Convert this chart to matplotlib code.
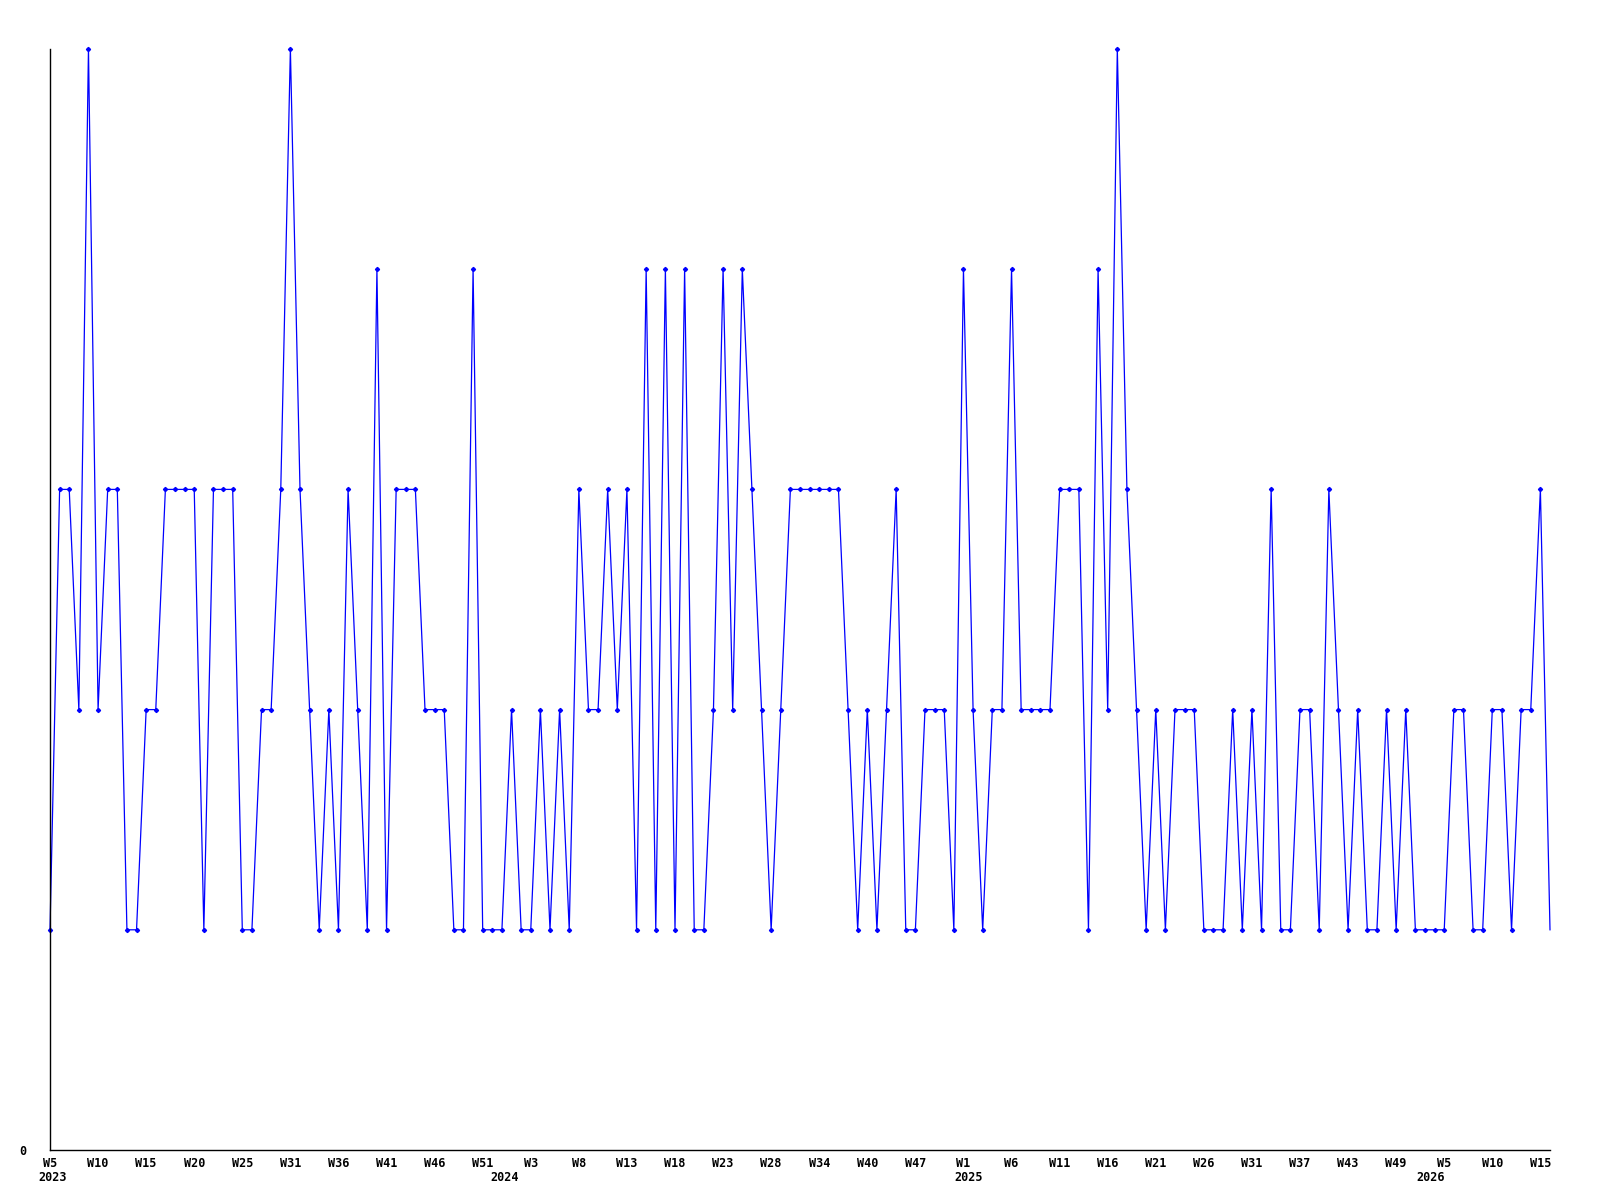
import matplotlib
matplotlib.use('Agg')
import matplotlib.pyplot as plt
import numpy as np

plt.rcParams['font.family'] = ['DejaVu Sans Mono']

# weekly values, 2023 W5 .. 2026 W15 (some weeks absent in the source)
values = [
    1, 3, 3, 2, 5, 2, 3, 3, 1, 1, 2, 2, 3, 3, 3, 3, 1, 3, 3, 3, 1, 1, 2, 2, 3, 5,
    3, 2, 1, 2, 1, 3, 2, 1, 4, 1, 3, 3, 3, 2, 2, 2, 1, 1, 4, 1, 1, 1, 2, 1, 1, 2,
    1, 2, 1, 3, 2, 2, 3, 2, 3, 1, 4, 1, 4, 1, 4, 1, 1, 2, 4, 2, 4, 3, 2, 1, 2, 3,
    3, 3, 3, 3, 3, 2, 1, 2, 1, 2, 3, 1, 1, 2, 2, 2, 1, 4, 2, 1, 2, 2, 4, 2, 2, 2,
    2, 3, 3, 3, 1, 4, 2, 5, 3, 2, 1, 2, 1, 2, 2, 2, 1, 1, 1, 2, 1, 2, 1, 3, 1, 1,
    2, 2, 1, 3, 2, 1, 2, 1, 1, 2, 1, 2, 1, 1, 1, 1, 2, 2, 1, 1, 2, 2, 1, 2, 2, 3, 1,
]

# a label under every fifth point
week_labels = ['W5', 'W10', 'W15', 'W20', 'W25', 'W31', 'W36', 'W41', 'W46', 'W51',
               'W3', 'W8', 'W13', 'W18', 'W23', 'W28', 'W34', 'W40', 'W47', 'W1',
               'W6', 'W11', 'W16', 'W21', 'W26', 'W31', 'W37', 'W43', 'W49', 'W5',
               'W10', 'W15']
label_step = 5

years = ['2023', '2024', '2025', '2026']
year_pos = [0.3, 47.3, 95.5, 143.6]

x = np.arange(len(values))

fig = plt.figure(figsize=(16, 12), dpi=100)
ax = fig.add_axes([50 / 1600, 1 - 1150 / 1200, 1500 / 1600, 1101 / 1200])

# last point is drawn without a marker in the original
ax.plot(x, values, color='#0000ff', lw=0.9, marker='D', markersize=2.1,
        markevery=slice(0, len(values) - 1), clip_on=False)

ax.set_xlim(0, len(values) - 1)
ax.set_ylim(0, 5)

ax.spines['top'].set_visible(False)
ax.spines['right'].set_visible(False)
ax.spines['left'].set_linewidth(1)
ax.spines['bottom'].set_linewidth(1)

ax.set_xticks(x[::label_step])
ax.set_xticklabels(week_labels, fontsize=8.5, fontweight='bold')
ax.set_yticks([0])
ax.set_yticklabels(['0'], fontsize=8.5, fontweight='bold')
ax.tick_params(axis='x', length=0, pad=5)
ax.tick_params(axis='y', length=0, pad=17)

for yr, pos in zip(years, year_pos):
    ax.annotate(yr, xy=(pos, 0), xycoords=('data', 'axes fraction'),
                xytext=(0, -21), textcoords='offset pixels',
                ha='center', va='top', fontsize=8.5, fontweight='bold')

fig.savefig('out.png', dpi=100)
